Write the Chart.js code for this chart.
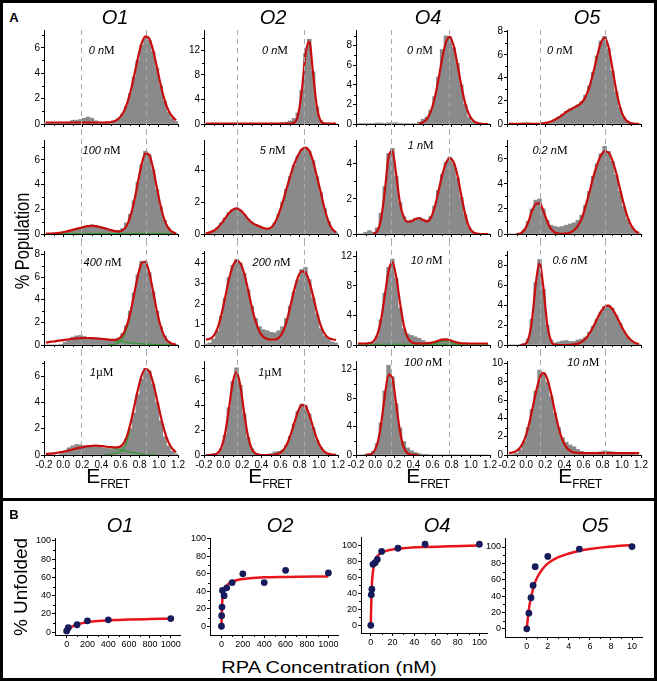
<!DOCTYPE html>
<html>
<head>
<meta charset="utf-8">
<title>RPA unfolding of G-quadruplexes</title>
<script src="https://cdn.jsdelivr.net/npm/chart.js@4.4.1/dist/chart.umd.min.js"></script>
<style>
  html, body { margin: 0; padding: 0; background: #fff; }
  #fig { position: relative; width: 657px; height: 681px; overflow: hidden; background: #fff;
         font-family: 'Liberation Sans', Arial, sans-serif; color: #000; }
  #fig canvas { position: absolute; }
  .t { position: absolute; white-space: nowrap; line-height: 1; }
  .bar { position: absolute; background: #000; }
  .conc { font-size: 11px; }
  .conc i { font-style: italic; }
  .conc .u { font-family: 'Liberation Serif', 'Times New Roman', serif; font-size: 12px; }
  .ttl { font-style: italic; font-size: 20px; }
  .efret { font-size: 21px; }
  .efret sub { font-size: 12px; vertical-align: -5px; letter-spacing: -0.5px; }
</style>
</head>
<body>
<div id="fig"></div>
<script>
// ---- panel A: FRET histograms, bin width 0.04 ----
const binCenters = [-0.18, -0.14, -0.10, -0.06, -0.02, 0.02, 0.06,
  0.10, 0.14, 0.18, 0.22, 0.26, 0.30, 0.34,
  0.38, 0.42, 0.46, 0.50, 0.54, 0.58, 0.62,
  0.66, 0.70, 0.74, 0.78, 0.82, 0.86, 0.90,
  0.94, 0.98, 1.02, 1.06, 1.10, 1.14, 1.18];
const fretTicks = [-0.2, 0, 0.2, 0.4, 0.6, 0.8, 1.0, 1.2];
const fretMinor = [-0.1, 0.1, 0.3, 0.5, 0.7, 0.9, 1.1];

// O1
const o1Hist0 = [0.1,0.1,0.1,0.1,0.1,0.1,0.15, 0.3,0.3,0.35,0.45,0.55,0.45,0.25, 0.15,0.1,0.1,0.12,0.2,0.45,0.8, 1.4,2.4,3.7,5.0,6.2,6.8,6.6, 5.7,4.4,3.0,1.8,0.95,0.45,0.2];
const o1Fit0 = [0.12,0.12,0.12,0.12,0.12,0.12,0.12, 0.12,0.12,0.12,0.12,0.12,0.12,0.12, 0.12,0.12,0.13,0.16,0.24,0.43,0.79, 1.44,2.43,3.74,5.15,6.34,6.9,6.72, 5.8,4.45,3.05,1.88,1.07,0.59,0.3];
const o1Hist100 = [0,0,0,0,0.05,0.1,0.2, 0.3,0.4,0.5,0.6,0.7,0.75,0.7, 0.6,0.5,0.4,0.3,0.25,0.3,0.45, 0.9,1.6,2.7,4.2,5.6,6.7,6.4, 5.2,3.6,2.2,1.1,0.5,0.2,0.05];
const o1Fit100 = [0.02,0.03,0.05,0.08,0.12,0.18,0.25, 0.33,0.42,0.5,0.58,0.63,0.65,0.63, 0.57,0.5,0.4,0.31,0.24,0.2,0.3, 0.63,1.36,2.56,4.13,5.64,6.52,6.39, 5.3,3.72,2.21,1.11,0.47,0.17,0.05];
const o1Base100 = [0.03,0.03,0.03,0.03,0.03,0.03,0.03, 0.03,0.03,0.03,0.03,0.03,0.03,0.03, 0.03,0.03,0.03,0.03,0.03,0.03,0.03, 0.03,0.03,0.03,0.03,0.03,0.03,0.03, 0.03,0.03,0.03,0.03,0.03,0.03,0.03];
const o1Hist400 = [0,0,0,0,0.05,0.25,0.5, 0.7,0.8,0.85,0.75,0.65,0.6,0.55, 0.5,0.45,0.42,0.4,0.45,0.6,1.0, 1.7,3.0,4.6,6.2,7.4,7.4,6.4, 4.7,3.0,1.6,0.8,0.35,0.15,0.05];
const o1Fit400 = [0.22,0.27,0.31,0.36,0.41,0.46,0.51, 0.55,0.58,0.6,0.62,0.62,0.61,0.59, 0.56,0.53,0.5,0.46,0.46,0.56,0.87, 1.57,2.77,4.4,6.08,7.22,7.35,6.38, 4.72,2.98,1.61,0.75,0.29,0.11,0.03];
const o1Low400 = [null,null,null,null,null,null,null, null,null,null,null,null,null,null, null,null,null,0.44,0.39,0.34,0.29, 0.24,0.2,0.16,0.13,0.1,0.08,0.06, 0.04,0.03,0.02,0.02,0.01,0.01,0];
const o1High400 = [null,null,null,null,null,null,null, null,null,null,null,null,null,null, null,null,0.005,0.02,0.07,0.22,0.58, 1.33,2.57,null,null,null,null,null, null,null,null,null,null,null,null];
const o1Hist1000 = [0,0,0,0,0.1,0.3,0.55, 0.7,0.8,0.78,0.7,0.68,0.66,0.64, 0.6,0.55,0.5,0.45,0.42,0.5,0.7, 1.2,2.0,3.2,4.6,5.8,6.6,6.4, 5.4,4.0,2.6,1.4,0.7,0.3,0.1];
const o1Fit1000 = [0.08,0.1,0.13,0.17,0.22,0.28,0.35, 0.42,0.5,0.56,0.62,0.67,0.7,0.71, 0.7,0.67,0.63,0.6,0.58,0.6,0.78, 1.3,2.3,3.6,4.95,6.05,6.55,6.38, 5.5,4.25,2.93,1.8,0.98,0.48,0.21];
const o1Low1000 = [null,null,null,null,null,null,null, null,null,null,null,null,null,null, null,null,0.6,0.55,0.48,0.42,0.36, 0.29,0.22,0.16,0.11,0.07,0.04,0.02, 0.01,0,null,null,null,null,null];
const o1High1000 = [null,null,null,null,null,null,null, null,null,null,null,null,null,null, null,0.01,0.03,0.06,0.12,0.2,0.38, 0.9,2.0,null,null,null,null,null, null,null,null,null,null,null,null];

// O2
const o2Hist0 = [0.05,0.05,0.1,0.05,0.05,0.05,0.05, 0.05,0.05,0.05,0.05,0.05,0.05,0.05, 0.05,0.05,0.05,0.1,0.1,0.15,0.2, 0.3,0.5,0.9,1.8,5.5,11.5,13.8, 8.5,2.8,0.6,0.15,0.05,0,0];
const o2Fit0 = [0.05,0.05,0.05,0.05,0.05,0.05,0.05, 0.05,0.05,0.05,0.05,0.05,0.05,0.05, 0.05,0.05,0.05,0.05,0.05,0.05,0.05, 0.05,0.06,0.2,1.25,5.1,11.3,13.4, 8.2,2.7,0.5,0.1,0.05,0.05,0.05];
const o2Hist5 = [0.05,0.1,0.2,0.4,0.7,1.0,1.35, 1.55,1.65,1.5,1.2,0.95,0.75,0.6, 0.5,0.4,0.35,0.4,0.7,1.25,2.0, 2.8,3.6,4.3,4.9,5.3,5.45,5.2, 4.6,3.6,2.6,1.6,0.8,0.3,0.1];
const o2Fit5 = [0.05,0.1,0.2,0.38,0.65,0.98,1.3, 1.52,1.6,1.5,1.25,0.95,0.72,0.58, 0.48,0.38,0.33,0.4,0.7,1.25,1.95, 2.8,3.6,4.35,4.9,5.3,5.4,5.2, 4.55,3.6,2.6,1.6,0.8,0.3,0.1];
const o2Hist200 = [0.05,0.1,0.3,0.7,1.4,2.3,3.3, 3.9,4.2,4.0,3.5,2.7,1.9,1.3, 0.9,0.75,0.7,0.62,0.6,0.7,0.9, 1.3,1.9,2.6,3.2,3.7,3.8,3.2, 2.3,1.5,0.8,0.45,0.3,0.15,0.1];
const o2Fit200 = [0.27,0.3,0.45,0.8,1.45,2.3,3.2, 3.85,4.12,4.0,3.5,2.7,1.85,1.15, 0.65,0.4,0.3,0.27,0.27,0.35,0.6, 1.1,1.85,2.65,3.3,3.6,3.55,3.1, 2.4,1.6,0.95,0.55,0.35,0.28,0.25];
const o2Hist1000 = [0,0.05,0.1,0.15,0.5,1.6,3.8, 5.9,7.0,5.6,3.3,1.4,0.5,0.15, 0.05,0,0,0.1,0.25,0.3,0.4, 0.8,1.5,2.5,3.5,4.1,4.0,3.3, 2.2,1.2,0.6,0.25,0.1,0.05,0];
const o2Fit1000 = [0,0,0.03,0.14,0.58,1.71,3.7, 5.8,6.65,5.54,3.36,1.48,0.48,0.11, 0.02,0,0,0.01,0.04,0.12,0.33, 0.77,1.51,2.48,3.44,4.0,3.92,3.22, 2.23,1.29,0.63,0.26,0.09,0.03,0.01];

// O4
const o4Hist0 = [0.05,0.05,0.05,0.05,0.05,0.1,0.1, 0.05,0.12,0.12,0.12,0.05,0.05,0.05, 0.05,0.05,0.2,0.5,0.7,1.4,2.8, 4.8,7.6,9.0,8.9,7.8,6.2,4.0, 2.0,0.7,0.25,0.1,0,0,0];
const o4Fit0 = [null,null,null,null,null,null,null, null,null,null,null,null,null,null, null,null,0.05,0.17,0.5,1.23,2.55, 4.47,6.64,8.35,8.9,8.0,6.1,3.94, 2.15,1.0,0.39,0.13,0.04,0,0];
const o4Hist1 = [0,0,0.1,0.2,0.1,0.35,1.2, 2.7,4.6,4.9,3.3,1.8,1.0,0.75, 0.8,0.9,0.95,0.85,0.8,1.0,1.6, 2.5,3.4,4.1,4.4,4.0,3.2,2.1, 1.1,0.4,0.1,0,0,0,0];
const o4Fit1 = [null,null,null,null,0.02,0.15,0.8, 2.4,4.4,4.75,3.4,1.75,0.95,0.7, 0.72,0.85,0.9,0.8,0.72,0.9,1.5, 2.4,3.35,4.05,4.32,4.1,3.35,2.2, 1.15,0.42,0.12,0.03,0,0,0];
const o4Hist10 = [0,0,0,0,0.3,1.2,3.4, 7.0,10.5,11.6,9.0,5.0,2.2,1.5, 1.3,1.1,0.9,0.6,0.4,0.35,0.45, 0.6,0.75,0.8,0.55,0.35,0.2,0.1, 0,0,0,0,0,0,0];
const o4Fit10 = [0.2,0.2,0.2,0.27,0.48,1.3,3.3, 6.6,10.0,11.2,9.25,5.7,2.64,1.0, 0.4,0.22,0.2,0.2,0.22,0.28,0.4, 0.58,0.72,0.75,0.65,0.48,0.32,0.24, 0.21,0.2,0.2,0.2,0.2,0.2,0.2];
const o4Base10 = [0.1,0.1,0.1,0.1,0.1,0.1,0.1, 0.1,0.1,0.1,0.1,0.1,0.1,0.1, 0.1,0.1,0.1,0.1,0.1,0.1,0.1, 0.1,0.1,0.1,0.1,0.1,0.1,0.1, 0.1,0.1,0.1,0.1,0.1,0.1,0.1];
const o4Bump10 = [null,null,null,null,null,null,null, null,null,null,null,null,null,null, null,null,null,null,0.02,0.08,0.2, 0.38,0.52,0.55,0.45,0.28,0.12,0.04, null,null,null,null,null,null,null];
const o4Hist100 = [0,0,0.05,0.2,0.5,1.6,4.5, 9.0,12.6,11.0,7.2,3.8,1.9,1.0, 0.6,0.35,0.2,0.1,0.05,0,0, 0,0,0,0,0,0,0, 0,0,0,0,0,0,0];
const o4Fit100 = [null,null,0.01,0.06,0.34,1.43,4.1, 8.2,11.3,10.8,7.1,3.3,1.04,0.23, 0.04,0.01,0,null,null,null,null, null,null,null,null,null,null,null, null,null,null,null,null,null,null];

// O5
const o5Hist0 = [0,0,0.05,0.05,0.1,0.1,0.05, 0.05,0.05,0.08,0.15,0.25,0.4,0.6, 0.85,1.1,1.3,1.45,1.65,1.95,2.5, 3.3,4.5,5.9,7.2,7.6,6.5,4.6, 2.8,1.4,0.6,0.25,0.1,0.05,0];
const o5Fit0 = [0.02,0.02,0.02,0.02,0.02,0.02,0.02, 0.02,0.02,0.05,0.12,0.22,0.38,0.56, 0.8,1.05,1.25,1.42,1.6,1.85,2.35, 3.2,4.4,5.8,7.0,7.5,6.7,4.9, 3.0,1.5,0.6,0.2,0.05,0.02,0];
const o5Hist02 = [0,0,0,0.05,0.35,1.0,2.0, 2.7,2.8,2.0,1.1,0.7,0.6,0.55, 0.6,0.7,0.8,0.9,1.1,1.5,2.3, 3.4,4.6,5.6,6.4,7.0,6.6,5.8, 4.7,3.4,2.2,1.2,0.55,0.2,0.05];
const o5Fit02 = [null,null,0,0.05,0.3,0.9,1.8, 2.4,2.45,1.85,1.0,0.4,0.12,0.04, 0.02,0.05,0.12,0.3,0.65,1.2,2.2, 3.3,4.5,5.5,6.25,6.6,6.5,5.9, 4.9,3.6,2.4,1.35,0.65,0.25,0.08];
const o5Hist06 = [0,0,0,0.05,0.15,0.6,2.6, 6.3,8.6,5.6,2.0,0.5,0.2,0.3, 0.4,0.45,0.35,0.35,0.5,0.6,0.8, 1.3,1.9,2.6,3.3,3.9,4.0,3.7, 3.0,2.2,1.4,0.8,0.4,0.15,0.05];
const o5Fit06 = [null,null,null,0,0.05,0.5,2.4, 6.1,8.2,5.8,2.1,0.42,0.04,0, 0,0,0.02,0.06,0.14,0.31,0.63, 1.13,1.81,2.6,3.33,3.83,3.95,3.62, 2.98,2.2,1.45,0.85,0.45,0.21,0.09];
const o5Hist10 = [0,0.05,0.2,0.6,1.5,3.0,5.0, 7.0,9.3,9.0,8.0,6.4,4.6,3.0, 1.9,1.4,1.1,0.9,0.6,0.4,0.3, 0.3,0.3,0.3,0.35,0.45,0.4,0.35, 0.3,0.25,0.2,0.15,0.1,0.05,0];
const o5Fit10 = [0.22,0.28,0.45,0.85,1.63,2.96,4.78, 6.78,8.38,9.0,8.38,6.78,4.78,2.96, 1.63,0.85,0.45,0.28,0.22,0.2,0.2, 0.2,0.2,0.2,0.2,0.2,0.2,0.2, 0.2,0.2,0.2,0.2,0.2,0.2,0.2];

// y ranges, ticks, dashed reference lines and RPA concentration per column (rows top to bottom)
const o1YMax = [7.4, 7.6, 8.3, 7.16];
const o2YMax = [15.3, 5.9, 4.6, 7.55];
const o4YMax = [9.6, 5.37, 12.7, 13.2];
const o5YMax = [8.15, 7.5, 9.45, 10.3];
const o1YTicks = [[0,2,4,6], [0,2,4,6], [0,2,4,6,8], [0,2,4,6]];
const o2YTicks = [[0,4,8,12], [0,2,4], [0,1,2,3,4], [0,2,4,6]];
const o4YTicks = [[0,2,4,6,8], [0,2,4], [0,4,8,12], [0,4,8,12]];
const o5YTicks = [[0,2,4,6,8], [0,2,4,6], [0,2,4,6,8], [0,2,4,6,8,10]];
const o1Dashes = [0.187, 0.866];
const o2Dashes = [0.145, 0.845];
const o4Dashes = [0.166, 0.77];
const o5Dashes = [0.145, 0.82];
const o1Conc = [['0', 'nM'], ['100', 'nM'], ['400', 'nM'], ['1', 'µM']];
const o2Conc = [['0', 'nM'], ['5', 'nM'], ['200', 'nM'], ['1', 'µM']];
const o4Conc = [['0', 'nM'], ['1', 'nM'], ['10', 'nM'], ['100', 'nM']];
const o5Conc = [['0', 'nM'], ['0.2', 'nM'], ['0.6', 'nM'], ['10', 'nM']];

// ---- panel B: % unfolded vs RPA concentration ----
const bO1Conc = [0, 16, 100, 200, 400, 1000];
const bO1Unf = [1.5, 5, 8.2, 12.5, 13.6, 15];
const bO1FitX = [0, 10, 25, 50, 100, 150, 200, 300, 400, 600, 800, 1000];
const bO1FitY = [0, 1.8, 3.8, 6.0, 8.5, 10.0, 11.0, 12.3, 13.0, 13.9, 14.4, 14.8];
const bO2Conc = [0, 2, 5, 10, 25, 50, 100, 200, 400, 600, 1000];
const bO2Unf = [0, 12, 22, 41, 35, 44, 50, 60, 50, 64, 61];
const bO2FitX = [0, 2, 5, 10, 20, 35, 50, 75, 100, 150, 200, 400, 600, 1000];
const bO2FitY = [0, 10, 21, 33, 40, 44, 46.5, 49.5, 51, 53, 54, 56, 56.5, 57];
const bO4Conc = [0, 0.5, 1, 2, 4, 6, 10, 25, 50, 100];
const bO4Unf = [0, 38, 45, 76, 78, 82, 92, 96, 101, 101];
const bO4FitX = [0, 0.5, 1, 1.5, 2, 3, 5, 7.5, 10, 15, 20, 30, 50, 75, 100];
const bO4FitY = [0, 30, 50, 60, 67, 75, 84, 88, 90.5, 93, 94.5, 96, 97.5, 98.5, 99.5];
const bO5Conc = [0, 0.2, 0.4, 0.6, 0.8, 2, 5, 10];
const bO5Unf = [0, 19, 38, 53, 76, 88.5, 97.5, 100.5];
const bO5FitX = [0, 0.1, 0.2, 0.4, 0.6, 0.8, 1, 1.5, 2, 3, 4, 5, 6, 8, 10];
const bO5FitY = [0, 13, 24, 38, 49, 57, 63, 73, 80, 87.5, 92, 95.5, 97.5, 100.5, 102.5];
const bThousandTicks = [0, 200, 400, 600, 800, 1000];
const bThousandMinor = [100, 300, 500, 700, 900];
const bHundredTicks = [0, 20, 40, 60, 80, 100];
const bHundredMinor = [10, 30, 50, 70, 90];
const bTenTicks = [0, 2, 4, 6, 8, 10];
const bTenMinor = [1, 3, 5, 7, 9];
const bYTicks = [0, 20, 40, 60, 80, 100];
const bYMinor = [10, 30, 50, 70, 90];

// ---- drawing ----
const FONT = "'Liberation Sans', Arial, sans-serif";
const GRAY = '#8a8a8a', RED = '#c80c0c', GREEN = '#2f9a2f', FIT_RED = '#e8141c', NAVY = '#171b5c';
const fig = document.getElementById('fig');

const columns = [
  { title: 'O1', hists: [o1Hist0, o1Hist100, o1Hist400, o1Hist1000], fits: [o1Fit0, o1Fit100, o1Fit400, o1Fit1000],
    greens: [[], [o1Base100], [o1Low400, o1High400], [o1Low1000, o1High1000]], yMax: o1YMax, yTicks: o1YTicks, dashes: o1Dashes, conc: o1Conc },
  { title: 'O2', hists: [o2Hist0, o2Hist5, o2Hist200, o2Hist1000], fits: [o2Fit0, o2Fit5, o2Fit200, o2Fit1000],
    greens: [[], [], [], []], yMax: o2YMax, yTicks: o2YTicks, dashes: o2Dashes, conc: o2Conc },
  { title: 'O4', hists: [o4Hist0, o4Hist1, o4Hist10, o4Hist100], fits: [o4Fit0, o4Fit1, o4Fit10, o4Fit100],
    greens: [[], [], [o4Base10, o4Bump10], []], yMax: o4YMax, yTicks: o4YTicks, dashes: o4Dashes, conc: o4Conc },
  { title: 'O5', hists: [o5Hist0, o5Hist02, o5Hist06, o5Hist10], fits: [o5Fit0, o5Fit02, o5Fit06, o5Fit10],
    greens: [[], [], [], []], yMax: o5YMax, yTicks: o5YTicks, dashes: o5Dashes, conc: o5Conc }
];

const bindPanels = [
  { title: 'O1', conc: bO1Conc, unf: bO1Unf, fitX: bO1FitX, fitY: bO1FitY, xTicks: bThousandTicks, xMinor: bThousandMinor, xMin: -112, xMax: 1089, yMin: -3, yMax: 103 },
  { title: 'O2', conc: bO2Conc, unf: bO2Unf, fitX: bO2FitX, fitY: bO2FitY, xTicks: bThousandTicks, xMinor: bThousandMinor, xMin: -107, xMax: 1090, yMin: -10, yMax: 101 },
  { title: 'O4', conc: bO4Conc, unf: bO4Unf, fitX: bO4FitX, fitY: bO4FitY, xTicks: bHundredTicks, xMinor: bHundredMinor, xMin: -9, xMax: 107, yMin: -9.5, yMax: 110 },
  { title: 'O5', conc: bO5Conc, unf: bO5Unf, fitX: bO5FitX, fitY: bO5FitY, xTicks: bTenTicks, xMinor: bTenMinor, xMin: -2.07, xMax: 10.95, yMin: -10, yMax: 111 }
];

// geometry (pixels)
const colAxisLeft = [44, 204, 356, 507];
const rowPlotTop = [30, 140, 251, 361];
const PLOT_W = 134, PLOT_H = 94, YW = 24, PT = 10, PR = 12;
const bLeft = [55, 210, 361, 505], bRight = [180, 338, 487, 642];
const bTop = [538, 538, 537, 538], bBottom = [635, 635, 633, 637];

function addCanvas(left, top, w, h) {
  const c = document.createElement('canvas');
  c.width = w; c.height = h;
  c.style.left = left + 'px'; c.style.top = top + 'px';
  c.style.width = w + 'px'; c.style.height = h + 'px';
  fig.appendChild(c);
  return c;
}

function addText(html, x, y, cls, extra) {
  const d = document.createElement('div');
  d.className = 't ' + (cls || '');
  d.innerHTML = html;
  d.style.left = x + 'px';
  d.style.top = y + 'px';
  d.style.transform = 'translate(-50%,-50%)' + (extra || '');
  fig.appendChild(d);
  return d;
}

// minor ticks and dashed guide lines, placed through the chart's own scales
function decor(cfg) {
  return {
    id: 'decor',
    afterDraw(chart) {
      const ctx = chart.ctx, xs = chart.scales.x, ys = chart.scales.y, a = chart.chartArea;
      ctx.save();
      ctx.strokeStyle = '#000';
      ctx.lineWidth = 1;
      ctx.beginPath();
      cfg.xMinor.forEach(v => {
        const px = Math.round(xs.getPixelForValue(v)) + 0.5;
        ctx.moveTo(px, a.bottom); ctx.lineTo(px, a.bottom + 2);
      });
      cfg.yMinor.forEach(v => {
        const py = Math.round(ys.getPixelForValue(v)) + 0.5;
        ctx.moveTo(a.left, py); ctx.lineTo(a.left - 2, py);
      });
      ctx.stroke();
      if (cfg.dashes) {
        ctx.strokeStyle = '#a9a9a9';
        ctx.setLineDash([5, 4]);
        ctx.beginPath();
        cfg.dashes.forEach(v => {
          const px = Math.round(xs.getPixelForValue(v)) + 0.5;
          ctx.moveTo(px, cfg.dashTop(a));
          ctx.lineTo(px, cfg.dashBottom(a, chart.height));
        });
        ctx.stroke();
      }
      ctx.restore();
    }
  };
}

function axisStyle(extra) {
  return Object.assign({
    grid: { display: true, drawOnChartArea: false, drawTicks: true, tickLength: 3, color: '#000', lineWidth: 1, offset: false },
    border: { display: true, color: '#000', width: 1 }
  }, extra);
}

function histChart(c, r) {
  const col = columns[c];
  const showX = r === 3;
  const XH = showX ? 20 : 8;
  const cv = addCanvas(colAxisLeft[c] - YW, rowPlotTop[r] - PT, YW + PLOT_W + PR, PT + PLOT_H + XH);
  const pts = arr => binCenters.map((x, i) => ({ x: x, y: arr[i] }));
  const datasets = [{ type: 'line', data: pts(col.fits[r]), borderColor: RED, borderWidth: 2.2, pointRadius: 0,
    cubicInterpolationMode: 'monotone', spanGaps: false }];
  col.greens[r].forEach(g => datasets.push({ type: 'line', data: pts(g), borderColor: GREEN, borderWidth: 1.2,
    pointRadius: 0, cubicInterpolationMode: 'monotone', spanGaps: false }));
  datasets.push({ type: 'bar', data: pts(col.hists[r]), backgroundColor: GRAY, borderWidth: 0,
    barPercentage: 1, categoryPercentage: 1 });

  const yTicks = col.yTicks[r];
  const yMax = col.yMax[r];
  const step = yTicks[1] - yTicks[0];
  const yMinor = yTicks.map(v => v + step / 2).filter(v => v < yMax);

  new Chart(cv, {
    type: 'bar',
    data: { datasets: datasets },
    options: {
      responsive: false, animation: false, devicePixelRatio: 1,
      layout: { padding: { top: PT, right: PR, left: 0, bottom: 0 } },
      plugins: { legend: { display: false }, tooltip: { enabled: false } },
      scales: {
        x: axisStyle({
          type: 'linear', min: -0.2, max: 1.2, offset: false,
          afterBuildTicks: s => { s.ticks = fretTicks.map(v => ({ value: v })); },
          afterFit: s => { s.height = XH; s.paddingLeft = 0; s.paddingRight = 0; },
          ticks: { autoSkip: false, maxRotation: 0, minRotation: 0, padding: 1, color: '#000',
            font: { family: FONT, size: 10 }, callback: v => showX ? Number(v).toFixed(1) : '' }
        }),
        y: axisStyle({
          min: 0, max: yMax,
          afterBuildTicks: s => { s.ticks = yTicks.map(v => ({ value: v })); },
          afterFit: s => { s.width = YW; s.paddingTop = 0; s.paddingBottom = 0; },
          ticks: { autoSkip: false, padding: 1, color: '#000', font: { family: FONT, size: 10 }, callback: v => String(v) }
        })
      }
    },
    plugins: [decor({
      xMinor: fretMinor, yMinor: yMinor, dashes: col.dashes,
      dashTop: r === 0 ? a => a.top : () => 0,
      dashBottom: r === 3 ? a => a.bottom + 3 : (a, h) => h
    })]
  });
}

function bindChart(i) {
  const b = bindPanels[i];
  const XH = 16, BT = 6;
  const cv = addCanvas(bLeft[i] - YW, bTop[i] - BT, YW + (bRight[i] - bLeft[i]) + PR, BT + (bBottom[i] - bTop[i]) + XH);
  new Chart(cv, {
    type: 'scatter',
    data: {
      datasets: [
        { data: b.conc.map((x, k) => ({ x: x, y: b.unf[k] })), backgroundColor: NAVY, borderColor: NAVY,
          pointRadius: 3.4, borderWidth: 0 },
        { type: 'line', data: b.fitX.map((x, k) => ({ x: x, y: b.fitY[k] })), borderColor: FIT_RED, borderWidth: 2.5,
          pointRadius: 0, cubicInterpolationMode: 'monotone', showLine: true, fill: false }
      ]
    },
    options: {
      responsive: false, animation: false, devicePixelRatio: 1,
      layout: { padding: { top: BT, right: PR, left: 0, bottom: 0 } },
      plugins: { legend: { display: false }, tooltip: { enabled: false } },
      scales: {
        x: axisStyle({
          type: 'linear', min: b.xMin, max: b.xMax,
          afterBuildTicks: s => { s.ticks = b.xTicks.map(v => ({ value: v })); },
          afterFit: s => { s.height = XH; s.paddingLeft = 0; s.paddingRight = 0; },
          ticks: { autoSkip: false, maxRotation: 0, minRotation: 0, padding: 1, color: '#000',
            font: { family: FONT, size: 9 }, callback: v => String(v) }
        }),
        y: axisStyle({
          min: b.yMin, max: b.yMax,
          afterBuildTicks: s => { s.ticks = bYTicks.map(v => ({ value: v })); },
          afterFit: s => { s.width = YW; s.paddingTop = 0; s.paddingBottom = 0; },
          ticks: { autoSkip: false, padding: 1, color: '#000', font: { family: FONT, size: 9 }, callback: v => String(v) }
        })
      }
    },
    plugins: [decor({ xMinor: b.xMinor, yMinor: bYMinor, dashes: null })]
  });
}

// frame
[[0, 0, 657, 3], [0, 678, 657, 3], [0, 0, 3, 681], [654, 0, 3, 681], [0, 498, 657, 3]].forEach(f => {
  const d = document.createElement('div');
  d.className = 'bar';
  d.style.left = f[0] + 'px'; d.style.top = f[1] + 'px';
  d.style.width = f[2] + 'px'; d.style.height = f[3] + 'px';
  fig.appendChild(d);
});

for (let c = 0; c < 4; c++) for (let r = 0; r < 4; r++) histChart(c, r);
for (let i = 0; i < 4; i++) bindChart(i);

// text
const titleX = [115, 273, 428, 587];
const efretX = [108, 270, 428, 580];
const concPos = [
  [[101.7, 50], [101.7, 150], [102.7, 261.7], [101.7, 371.7]],
  [[275, 50], [272.7, 150], [271.7, 261.7], [270, 371.7]],
  [[420, 50], [420.7, 145], [426.7, 260], [423.3, 361.7]],
  [[560, 50], [550, 150], [570, 260], [583.3, 361.7]]
];
const bTitleX = [120, 280, 437, 595];

addText('A', 14, 17, '', '').style.cssText += 'font-weight:bold;font-size:13px;';
addText('B', 14, 514, '', '').style.cssText += 'font-weight:bold;font-size:13px;';
columns.forEach((col, c) => {
  addText(col.title, titleX[c], 17, 'ttl');
  const e = addText('E<sub>FRET</sub>', efretX[c], 465, 'efret');
  e.style.transform = 'translate(-50%,0)';
  col.conc.forEach((cc, r) => {
    const html = cc[1] === 'nM'
      ? '<i>' + cc[0] + ' n</i><span class="u">M</span>'
      : '<i>' + cc[0] + '</i><span class="u">µM</span>';
    addText(html, concPos[c][r][0], concPos[c][r][1], 'conc');
  });
});
bindPanels.forEach((b, i) => addText(b.title, bTitleX[i], 525, 'ttl'));
// the source figure is squashed vertically, so the rotated label is shorter than its glyph height suggests
addText('% Population', 21, 241, '', ' rotate(-90deg) scaleX(0.78)').style.fontSize = '21px';
addText('% Unfolded', 20, 587, '', ' rotate(-90deg)').style.fontSize = '19px';
addText('RPA Concentration (nM)', 329, 667, '', ' scaleY(0.85)').style.fontSize = '20px';
</script>
</body>
</html>
